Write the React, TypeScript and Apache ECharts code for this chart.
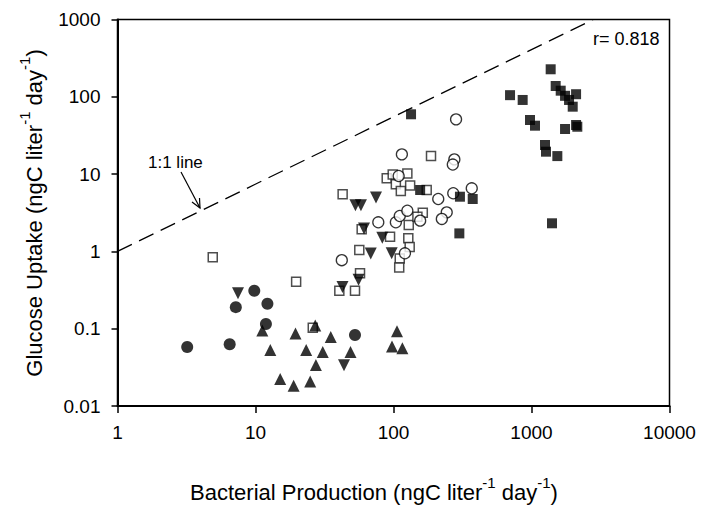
import React, { useEffect, useRef } from "react";
import * as echarts from "echarts";

// Data (x: bacterial production, y: glucose uptake)
const filledCircles = [[3.2, 0.058], [6.5, 0.063], [7.2, 0.19], [9.8, 0.31], [12.2, 0.21], [11.9, 0.115], [52.6, 0.083]];
const upTriangles = [[11.2, 0.095], [12.8, 0.053], [19.5, 0.087], [27.1, 0.11], [35.1, 0.078], [23.3, 0.053], [30.7, 0.05], [48.8, 0.05], [27.4, 0.034], [15.1, 0.0223], [18.9, 0.0183], [24.9, 0.0207], [106, 0.093], [97.5, 0.059], [116, 0.056]];
const downTriangles = [[7.47, 0.287], [43.8, 0.0336], [74.7, 4.98], [53, 3.95], [58.1, 3.95], [61.1, 1.98], [83, 1.5], [68.4, 0.94], [97, 0.945], [55.8, 0.43], [42.7, 0.346]];
const openSquares = [[4.9, 0.84], [19.7, 0.406], [26, 0.103], [40.5, 0.31], [52.6, 0.31], [57.2, 0.52], [56.5, 1.04], [58.8, 1.93], [42.8, 5.48], [94.4, 1.55], [129, 2.2], [128, 1.48], [131, 1.14], [111, 0.81], [110, 0.62], [163, 3.17], [149, 2.8], [89.3, 8.83], [98.7, 9.9], [126, 10.2], [104, 7.38], [132, 7.12], [113, 6.04], [174, 6.23], [187, 17.1]];
const openCircles = [[77.6, 2.38], [104, 2.38], [111, 2.87], [126, 3.36], [156, 2.5], [121, 0.945], [42.2, 0.77], [211, 4.76], [243, 3.2], [224, 2.63], [271, 5.65], [369, 6.55], [276, 15.5], [269, 13.3], [115, 18], [284, 51.1], [109, 9.45]];
const filledSquares = [[1377, 227], [1497, 138], [1628, 120], [1750, 103], [1871, 91], [2104, 108], [1989, 74.5], [699, 105], [863, 91], [975, 50.1], [1060, 42.3], [1750, 38.3], [2104, 43.2], [2148, 41], [1253, 23.8], [1274, 19.5], [1539, 17.1], [1408, 2.31], [134, 59.4], [156, 6.23], [303, 5.1], [375, 4.76], [300, 1.71]];
const refLine = [[1, 1], [2800, 1000]];

const xTickLabels = ["1", "10", "100", "1000", "10000"];
const yTickLabels = ["0.01", "0.1", "1", "10", "100", "1000"];
const xMin = 1, xMax = 10000, yMin = 0.01, yMax = 1000;
const rText = "r= 0.818";
const lineText = "1:1 line";

const FONT = "Liberation Sans, Arial, sans-serif";

export default function App() {
  const ref = useRef<HTMLDivElement>(null);
  useEffect(() => {
    if (!ref.current) return;
    const chart = echarts.init(ref.current, undefined, { renderer: "svg" });
    const pick = (labels: string[], min: number) => (v: number) => {
      const i = Math.round(Math.log10(v) - Math.log10(min));
      return labels[i] ?? "";
    };
    const black = "#000";
    const rich = {
      n: { fontSize: 22, fontFamily: FONT, color: black, lineHeight: 29, verticalAlign: "bottom" },
      s: { fontSize: 15, fontFamily: FONT, color: black, lineHeight: 15, verticalAlign: "top" },
    };
    chart.setOption({
      animation: false,
      backgroundColor: "#fff",
      grid: { left: 117.5, right: 31.5, top: 19.5, bottom: 99, show: true, borderColor: black, borderWidth: 1.5, backgroundColor: "transparent" },
      xAxis: {
        type: "log", logBase: 10, min: xMin, max: xMax,
        axisLine: { show: true, onZero: false, lineStyle: { color: black, width: 2 } },
        axisTick: { show: true, length: 7, lineStyle: { color: black, width: 1.5 } },
        minorTick: { show: false },
        splitLine: { show: false },
        axisLabel: { margin: 17, color: black, fontSize: 19, fontFamily: FONT, formatter: pick(xTickLabels, xMin) },
      },
      yAxis: {
        type: "log", logBase: 10, min: yMin, max: yMax,
        axisLine: { show: true, onZero: false, lineStyle: { color: black, width: 2 } },
        axisTick: { show: true, length: 6, lineStyle: { color: black, width: 1.5 } },
        minorTick: { show: false },
        splitLine: { show: false },
        axisLabel: { margin: 17, color: black, fontSize: 19, fontFamily: FONT, formatter: pick(yTickLabels, yMin) },
      },
      series: [
        { type: "line", data: refLine, symbol: "none", silent: true, lineStyle: { color: black, width: 1.3, type: [16, 8] }, z: 1 },
        { type: "scatter", data: openSquares, symbol: "rect", symbolSize: 9, itemStyle: { color: "#fff", borderColor: "#222", borderWidth: 1.5 }, z: 3 },
        { type: "scatter", data: openCircles, symbol: "circle", symbolSize: 11, itemStyle: { color: "#fff", borderColor: black, borderWidth: 1.3 }, z: 3 },
        { type: "scatter", data: downTriangles, symbol: "triangle", symbolRotate: 180, symbolSize: 12, itemStyle: { color: black }, z: 4 },
        { type: "scatter", data: upTriangles, symbol: "triangle", symbolSize: 12, itemStyle: { color: black }, z: 4 },
        { type: "scatter", data: filledCircles, symbol: "circle", symbolSize: 12, itemStyle: { color: black }, z: 4 },
        { type: "scatter", data: filledSquares, symbol: "rect", symbolSize: 10, itemStyle: { color: black }, z: 4 },
      ],
      graphic: [
        {
          type: "text", x: 374, y: 489,
          style: {
            text: "{n|Bacterial Production (ngC liter}{s|-1}{n| day}{s|-1}{n|)}",
            rich, align: "center", verticalAlign: "middle",
          },
        },
        {
          type: "text", x: 31, y: 213, rotation: Math.PI / 2,
          style: {
            text: "{n|Glucose Uptake (ngC liter}{s|-1}{n| day}{s|-1}{n|)}",
            rich, align: "center", verticalAlign: "middle",
          },
        },
        {
          type: "text", x: 593, y: 39,
          style: { text: rText, fontSize: 18, fontFamily: FONT, fill: black, align: "left", verticalAlign: "middle" },
        },
        {
          type: "text", x: 148, y: 162,
          style: { text: lineText, fontSize: 17, fontFamily: FONT, fill: black, align: "left", verticalAlign: "middle" },
        },
        { type: "line", shape: { x1: 181, y1: 172, x2: 200, y2: 208 }, style: { stroke: black, lineWidth: 1.2 } },
        { type: "polyline", shape: { points: [[192, 202], [200, 208], [199.5, 198]] }, style: { stroke: black, lineWidth: 1.2, fill: null } },
      ],
    });
    return () => chart.dispose();
  }, []);
  return <div ref={ref} style={{ position: "absolute", left: 0, top: 0, width: 701, height: 505 }} />;
}
